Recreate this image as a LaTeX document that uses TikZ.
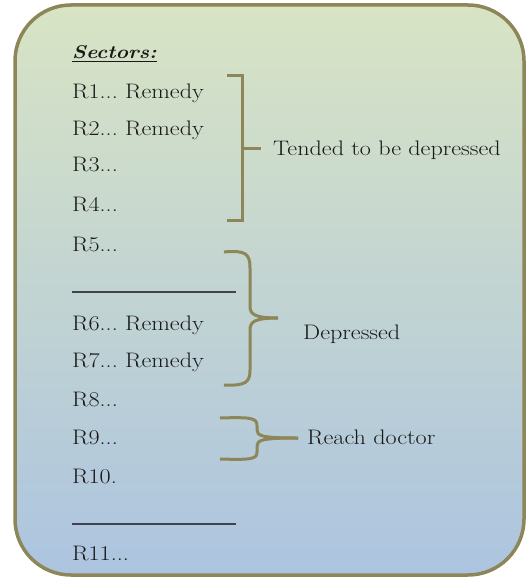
\documentclass[tikz,border=0pt]{standalone}
\usepackage{fontspec}
\setmainfont{Latin Modern Roman}[FakeStretch=1.15]
\usepackage{tikz}
\usepackage{xcolor}
\usetikzlibrary{calc}
\usetikzlibrary{positioning}
\frenchspacing

\definecolor{boxline}{RGB}{140,134,88}
\definecolor{boxtop}{RGB}{216,228,196}
\definecolor{boxmid}{RGB}{196,214,212}
\definecolor{boxbottom}{RGB}{172,196,224}
\definecolor{rule}{RGB}{64,66,82}

\tikzset{
  sector/.style={anchor=base west, inner sep=0pt, font=\fontsize{21}{25}\selectfont, text=black!90},
  group/.style={anchor=base west, inner sep=0pt, font=\fontsize{21}{25}\selectfont, text=black!90},
  bracket/.style={draw=boxline, line width=3pt},
}

\begin{document}
\begin{tikzpicture}[x=1pt,y=-1pt]
\useasboundingbox (0,0) rectangle (529,578);

% the panel
\draw[rounded corners=56, line width=3.5, draw=boxline, top color=boxtop, middle color=boxmid, bottom color=boxbottom]
  (15,5) rectangle (524,575);

\node[sector, font=\fontsize{18.5}{22}\selectfont] (head) at (72,59) {\underline{\textbf{\textit{Sectors:}}}};
\node[sector] (r1) at (72,99) {R1... Remedy};
\node[sector] (r2) at (72,135) {R2... Remedy};
\node[sector] (r3) at (72,171) {R3...};
\node[sector] (r4) at (72,211) {R4...};
\node[sector] (r5) at (72,251) {R5...};
\draw[rule, line width=1.2] (72,292) -- (236,292);
\node[sector] (r6) at (72,330) {R6... Remedy};
\node[sector] (r7) at (72,367) {R7... Remedy};
\node[sector] (r8) at (72,406) {R8...};
\node[sector] (r9) at (72,444) {R9...};
\node[sector] (r10) at (72,483) {R10.};
\draw[rule, line width=1.2] (72,524) -- (236,524);
\node[sector] (r11) at (72,560) {R11...};

% tended to be depressed
\draw[bracket] (227,75) -- (242,75) -- (242,220) -- (227,220);
\draw[bracket] (242,148) -- (261,148) coordinate (t1);
\node[group] (tended) at (273,155) {Tended to be depressed};

% depressed
\draw[bracket] (224,252) .. controls (246,250) and (250,254) .. (250,268) -- (250,306)
  .. controls (250,314) and (254,318) .. (278,318) coordinate (t2);
\draw[bracket] (t2) .. controls (254,318) and (250,322) .. (250,330) -- (250,370)
  .. controls (250,382) and (246,386) .. (224,385);
\node[group] (dep) at (303,339) {Depressed};

% reach doctor
\draw[bracket] (220,418) .. controls (252,417) and (257,418) .. (257,426) -- (257,430)
  .. controls (257,436) and (262,438) .. (298,438) coordinate (t3);
\draw[bracket] (t3) .. controls (262,438) and (257,440) .. (257,446) -- (257,452)
  .. controls (257,459) and (252,460) .. (220,459);
\node[group] (reach) at (307,444) {Reach doctor};

\end{tikzpicture}
\end{document}
